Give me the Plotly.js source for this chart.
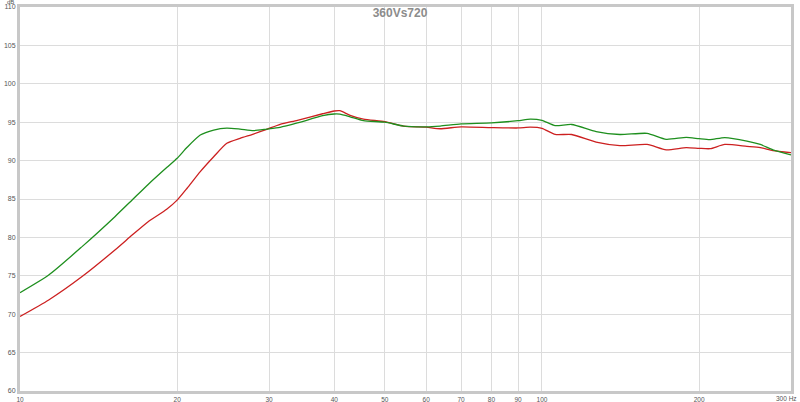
<!DOCTYPE html>
<html>
<head>
<meta charset="utf-8">
<script src="https://cdn.plot.ly/plotly-3.0.1.min.js"></script>
<style>
  html, body { margin: 0; padding: 0; background: #fff; }
  #graphDiv { width: 800px; height: 402px; }
</style>
</head>
<body>
<div id="graphDiv"></div>
<script>
// frequency points (Hz)
let freqs = [10, 11.35, 13.15, 15.2, 16.4, 17.6, 19.1, 20, 20.9, 22.15, 23.5, 24.9, 26.4, 28, 29.7, 31.5, 34, 38, 40, 41, 42.9, 45.5, 50, 54.3, 60, 63.8, 70, 80, 90, 95, 100, 106, 114, 127, 141, 159, 173, 189, 200, 210, 224, 247, 262, 277, 300];

// green trace
let green = [72.8, 75.1, 78.8, 82.7, 84.87, 86.9, 89.1, 90.3, 91.73, 93.33, 93.98, 94.24, 94.1, 93.9, 94.1, 94.33, 94.9, 95.85, 96.07, 96.05, 95.7, 95.2, 95.0, 94.5, 94.4, 94.5, 94.77, 94.9, 95.2, 95.4, 95.24, 94.55, 94.7, 93.77, 93.4, 93.55, 92.77, 93.03, 92.85, 92.73, 93.0, 92.55, 92.1, 91.4, 90.73];

// red trace
let red = [69.7, 71.85, 74.9, 78.36, 80.3, 82.05, 83.66, 84.85, 86.4, 88.56, 90.5, 92.25, 92.9, 93.46, 94.07, 94.73, 95.25, 96.1, 96.46, 96.5, 95.9, 95.4, 95.07, 94.5, 94.35, 94.15, 94.4, 94.3, 94.25, 94.35, 94.2, 93.4, 93.4, 92.4, 91.95, 92.1, 91.4, 91.7, 91.6, 91.55, 92.1, 91.86, 91.7, 91.3, 91.03];

let xTicks = [10, 20, 30, 40, 50, 60, 70, 80, 90, 100, 200, 300];
let xTickText = ["10", "20", "30", "40", "50", "60", "70", "80", "90", "100", "200", "300 Hz"];
let yTicks = [60, 65, 70, 75, 80, 85, 90, 95, 100, 105, 110];

function makeTrace(values, color) {
  return {
    type: "scatter",
    mode: "lines",
    x: freqs,
    y: values,
    line: { color: color, width: 1.3, shape: "spline", smoothing: 0.6 },
    hoverinfo: "skip",
  };
}

let data = [makeTrace(red, "#cc2020"), makeTrace(green, "#1e8f1e")];

// last label sits at the page edge, so it is drawn as a right-anchored annotation
let lastLabel = xTickText[xTickText.length - 1];
let axisTickText = xTickText.slice(0, -1).concat([""]);

let layout = {
  width: 800,
  height: 402,
  margin: { l: 20, r: 9, t: 7, b: 11, pad: 0 },
  paper_bgcolor: "#ffffff",
  plot_bgcolor: "#ffffff",
  showlegend: false,
  font: { family: "Liberation Sans, Arial, sans-serif", size: 7, color: "#555555" },
  title: {
    text: "<b>360Vs720</b>",
    font: { family: "Liberation Sans, Arial, sans-serif", size: 12, color: "#8c8c8c" },
    xref: "container",
    x: 0.5,
    xanchor: "center",
    yref: "container",
    y: 1 - 13 / 402,
    yanchor: "middle",
  },
  xaxis: {
    type: "log",
    range: [1, Math.log10(300)],
    tickvals: xTicks,
    ticktext: axisTickText,
    ticks: "",
    showgrid: true,
    gridcolor: "#dcdcdc",
    gridwidth: 1,
    showline: true,
    linecolor: "#c8c8c8",
    linewidth: 3,
    mirror: true,
    zeroline: false,
    tickfont: { size: 6.5, color: "#555555" },
    automargin: false,
  },
  yaxis: {
    range: [60, 110],
    tickvals: yTicks,
    ticks: "",
    showgrid: true,
    gridcolor: "#dcdcdc",
    gridwidth: 1,
    showline: true,
    linecolor: "#c8c8c8",
    linewidth: 3,
    mirror: true,
    zeroline: false,
    tickfont: { size: 7, color: "#555555" },
    automargin: false,
  },
  annotations: [
    {
      text: "dB",
      xref: "paper",
      yref: "paper",
      x: 0,
      y: 1,
      xanchor: "right",
      yanchor: "bottom",
      xshift: -4,
      yshift: 0,
      showarrow: false,
      font: { size: 6, color: "#555555" },
    },
    {
      text: lastLabel,
      xref: "paper",
      yref: "paper",
      x: 1,
      y: 0,
      xanchor: "right",
      yanchor: "top",
      xshift: 7,
      yshift: -3,
      borderpad: 0,
      showarrow: false,
      font: { size: 6.5, color: "#555555" },
    },
  ],
};

Plotly.newPlot("graphDiv", data, layout, { staticPlot: true });
</script>
</body>
</html>
